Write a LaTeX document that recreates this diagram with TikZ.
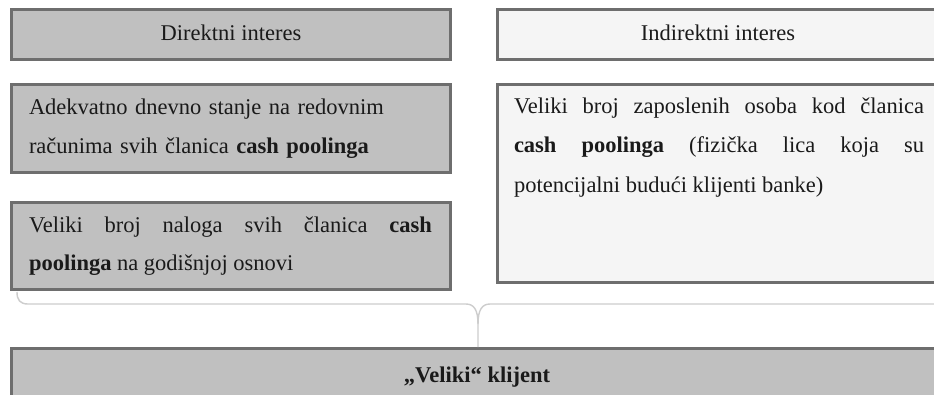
\documentclass[tikz,border=0pt]{standalone}
\usepackage{fontspec}
\setmainfont{Liberation Serif}
\definecolor{boxdark}{HTML}{C0C0C0}
\definecolor{boxlight}{HTML}{F5F5F5}
\definecolor{edge}{HTML}{6E6E6E}
\definecolor{bracec}{HTML}{CDCDCD}
\definecolor{ink}{HTML}{1A1A1A}
\tikzset{
  panel/.style={draw=edge, line width=3pt, inner sep=0pt, outer sep=0pt, anchor=north west},
  darkpanel/.style={panel, fill=boxdark},
  lightpanel/.style={panel, fill=boxlight},
  txt/.style={inner sep=0pt, outer sep=0pt, text=ink, font=\fontsize{22.5}{39}\selectfont},
  para/.style={txt, anchor=base west, text width=#1},
  bracestyle/.style={draw=bracec, line width=1.4pt, line join=round}
}
\begin{document}
\begin{tikzpicture}[x=1pt, y=-1pt]
\clip (0,0) rectangle (934,394);
\useasboundingbox (0,0) rectangle (934,394);
\fill[white] (0,0) rectangle (934,394);
% boxes
\node[darkpanel, minimum width=439pt, minimum height=50pt] (hA) at (11.5,9.5) {};
\node[lightpanel, minimum width=450pt, minimum height=50pt] (hB) at (497.5,9.5) {};
\node[darkpanel, minimum width=439pt, minimum height=88pt] (bC) at (11.5,84.5) {};
\node[lightpanel, minimum width=450pt, minimum height=198pt] (bD) at (497.5,84.5) {};
\node[darkpanel, minimum width=439pt, minimum height=87pt] (bE) at (11.5,202.5) {};
\node[darkpanel, minimum width=940pt, minimum height=60pt] (bF) at (11.5,348.5) {};
% texts
\node[txt, anchor=base] (tA) at (231,40) {Direktni interes};
\node[txt, anchor=base] (tB) at (718,40) {Indirektni interes};
\node[para=403pt, align=left] (tC) at (29,114) {Adekvatno dnevno stanje na redovnim\\ računima svih članica \textbf{cash poolinga}};
\node[para=410pt, align=justify, font=\fontsize{22.5}{39.5}\selectfont] (tD) at (514,113) {\hyphenpenalty=10000\exhyphenpenalty=10000 Veliki broj zaposlenih osoba kod članica\linebreak \textbf{cash poolinga} (fizička lica koja su\linebreak potencijalni budući klijenti banke)};
\node[para=403pt, align=justify, font=\fontsize{22.5}{38}\selectfont] (tE) at (29,232) {\hyphenpenalty=10000 Veliki broj naloga svih članica \textbf{cash}\linebreak \textbf{poolinga} na godišnjoj osnovi};
\node[txt, anchor=base] (tF) at (477,382) {\textbf{„Veliki“ klijent}};
% brace
\coordinate (bl) at (17,292);
\coordinate (tip) at (478,347);
\coordinate (br) at (940,304);
\draw[bracestyle] (bl) .. controls (17,300) and (20,304) .. (28,304) -- (466,304)
  .. controls (474,304) and (478,310) .. (478,324) -- (tip);
\draw[bracestyle] (478,324) .. controls (478,310) and (482,304) .. (490,304) -- (br);
\end{tikzpicture}
\end{document}
